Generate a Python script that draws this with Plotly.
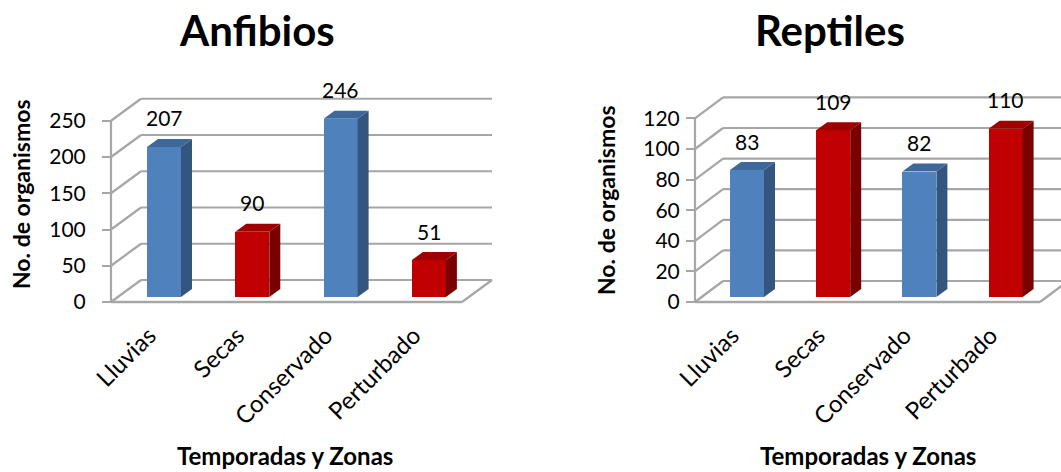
import plotly.graph_objects as go

# ---------------- data ----------------
categories = ["Lluvias", "Secas", "Conservado", "Perturbado"]
anfibios = [207, 90, 246, 51]
reptiles = [83, 109, 82, 110]
bar_kind = ["blue", "red", "blue", "red"]
anf_ticks = [0, 50, 100, 150, 200, 250]
rep_ticks = [0, 20, 40, 60, 80, 100, 120]

# ---------------- styling ----------------
W, H = 1061, 472
FONT = "Lato"
GRID = "#a6a6a6"
COLORS = {
    "blue": dict(front="#4f81bd", side="#34557f", top="#3e679a"),
    "red": dict(front="#c00000", side="#7a0000", top="#9e0000"),
}
FLOOR_PX = 302      # front floor edge (value 0) in pixels
TOP_PX = 55
BOT_PX = 308
BAR_BASE_PX = 297
BAR_W_PX = 34
BAR_DX_PX, BAR_DY_PX = 11, 8
LABEL_SHIFT_PX = -15   # category label anchor relative to bar centre

panels = [
    dict(xa="x", ya="y", vals=anfibios, ticks=anf_ticks, title="Anfibios",
         cx0=164, sp=88.3, k=0.725, front_l=111, front_r=462, wall_dx=30, wall_dy=22,
         dom_l=100, dom_r=515, standoff=12, title_x=257, ytitle_x=21, ytitle_y=194,
         xtitle_x=285),
    dict(xa="x2", ya="y2", vals=reptiles, ticks=rep_ticks, title="Reptiles",
         cx0=747, sp=86.2, k=1.53, front_l=695, front_r=1040, wall_dx=28, wall_dy=21,
         dom_l=688, dom_r=1061, standoff=2, title_x=830, ytitle_x=606, ytitle_y=200,
         xtitle_x=868),
]

fig = go.Figure()
annotations = []
shapes = []
layout = {}

for p in panels:
    sp, k = p["sp"], p["k"]
    X = lambda px: (px - p["cx0"]) / sp          # pixel -> x data
    Y = lambda py: (FLOOR_PX - py) / k           # pixel -> y data
    xf_l, xf_r = X(p["front_l"]), X(p["front_r"])
    dxu, dyu = p["wall_dx"] / sp, p["wall_dy"] / k
    xb_l, xb_r = xf_l + dxu, xf_r + dxu
    tmax = p["ticks"][-1]

    def seg(x0, y0, x1, y1, w=2.2):
        shapes.append(dict(type="line", xref=p["xa"], yref=p["ya"], x0=x0, y0=y0,
                           x1=x1, y1=y1, layer="below",
                           line=dict(color=GRID, width=w)))

    # back wall gridlines and left wall diagonals
    for t in p["ticks"]:
        seg(xf_l, t, xb_l, t + dyu)
        seg(xb_l, t + dyu, xb_r, t + dyu)
    # floor front/right edges and front axis line
    seg(xf_l, 0, xf_l, tmax)
    seg(xf_l, 0, xf_r, 0, 2.6)
    seg(xf_r, 0, xb_r, dyu)

    common = dict(xaxis=p["xa"], yaxis=p["ya"], mode="lines", hoverinfo="skip",
                  showlegend=False)
    # bars
    b0 = Y(BAR_BASE_PX)
    bw = BAR_W_PX / sp
    ddx, ddy = BAR_DX_PX / sp, BAR_DY_PX / k
    xs = list(range(len(categories)))
    fig.add_trace(go.Bar(x=xs, y=p["vals"], base=[b0] * len(xs), width=bw,
                         marker=dict(color=[COLORS[c]["front"] for c in bar_kind],
                                     line=dict(width=0)),
                         xaxis=p["xa"], yaxis=p["ya"], showlegend=False,
                         hoverinfo="skip"))
    for i, v in enumerate(p["vals"]):
        c = COLORS[bar_kind[i]]
        xl, xr = i - bw / 2, i + bw / 2
        top = b0 + v
        fig.add_trace(go.Scatter(
            x=[xr, xr + ddx, xr + ddx, xr, xr], y=[b0, b0 + ddy, top + ddy, top, b0],
            fill="toself", fillcolor=c["side"], line=dict(width=0), **common))
        fig.add_trace(go.Scatter(
            x=[xl, xr, xr + ddx, xl + ddx, xl], y=[top, top, top + ddy, top + ddy, top],
            fill="toself", fillcolor=c["top"], line=dict(width=0), **common))
        annotations.append(dict(x=i, y=top, xref=p["xa"], yref=p["ya"], text=str(v),
                                showarrow=False, yanchor="middle", yshift=29,
                                font=dict(family=FONT, size=21, color="black")))

    axn = p["xa"].replace("x", "xaxis")
    ayn = p["ya"].replace("y", "yaxis")
    layout[axn] = dict(domain=[p["dom_l"] / W, p["dom_r"] / W],
                       range=[X(p["dom_l"]), X(p["dom_r"])], automargin=False,
                       anchor=p["ya"], showgrid=False, zeroline=False, showline=False,
                       tickmode="array", tickvals=[i + LABEL_SHIFT_PX / sp for i in xs],
                       ticktext=categories, tickangle=-45, ticks="",
                       ticklabelstandoff=8,
                       tickfont=dict(family=FONT, size=24, color="black"))
    layout[ayn] = dict(domain=[(H - BOT_PX) / H, (H - TOP_PX) / H],
                       range=[Y(BOT_PX), Y(TOP_PX)], automargin=False,
                       anchor="free", position=p["front_l"] / W,
                       showgrid=False, zeroline=False, showline=False,
                       tickmode="array", tickvals=p["ticks"],
                       ticks="outside", ticklen=9, tickwidth=2, tickcolor=GRID,
                       ticklabelstandoff=p["standoff"],
                       tickfont=dict(family=FONT, size=21, color="black"))

    annotations.append(dict(x=p["title_x"] / W, y=1 - 3 / H, xref="paper", yref="paper",
                            text="<b>%s</b>" % p["title"], showarrow=False,
                            xanchor="center", yanchor="top",
                            font=dict(family=FONT, size=42, color="black")))
    annotations.append(dict(x=p["ytitle_x"] / W, y=1 - p["ytitle_y"] / H, xref="paper",
                            yref="paper", text="<b>No. de organismos</b>", textangle=-90,
                            showarrow=False, xanchor="center", yanchor="middle",
                            font=dict(family=FONT, size=23, color="black")))
    annotations.append(dict(x=p["xtitle_x"] / W, y=1 - 455 / H, xref="paper",
                            yref="paper", text="<b>Temporadas y Zonas</b>",
                            showarrow=False, xanchor="center", yanchor="middle",
                            font=dict(family=FONT, size=24, color="black")))

fig.update_layout(width=W, height=H, margin=dict(l=0, r=0, t=0, b=0, autoexpand=False),
                  paper_bgcolor="white", plot_bgcolor="white",
                  font=dict(family=FONT), annotations=annotations, shapes=shapes,
                  bargap=0, **layout)

fig.write_html("out.html", config={"displayModeBar": False, "staticPlot": True},
               post_script="document.body.style.margin='0px';"
                           "document.body.style.overflow='hidden';")
